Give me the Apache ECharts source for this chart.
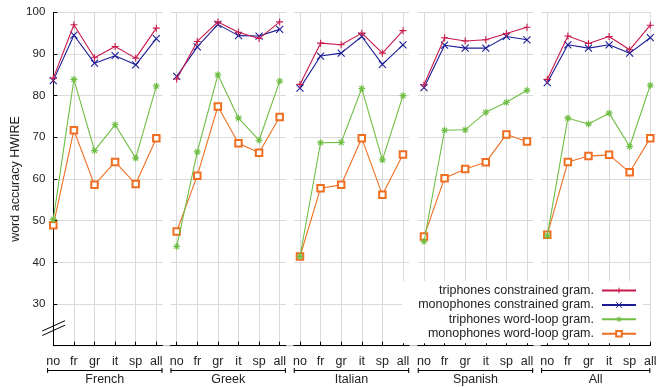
<!DOCTYPE html>
<html>
<head>
<meta charset="utf-8">
<script src="https://cdn.jsdelivr.net/npm/echarts@6/dist/echarts.min.js"></script>
<style>html,body{margin:0;padding:0;background:#fff}#c{width:666px;height:387px}</style>
</head>
<body>
<div id="c"></div>
<script>
// ---- data ----
const categories = ['no', 'fr', 'gr', 'it', 'sp', 'all'];
const panels = ['French', 'Greek', 'Italian', 'Spanish', 'All'];
const seriesNames = ['triphones constrained gram.', 'monophones constrained gram.', 'triphones word-loop gram.', 'monophones word-loop gram.'];
const yTicks = [20, 30, 40, 50, 60, 70, 80, 90, 100];
// one row per panel, values per category
const triConstrained = [
  [84.2, 97.0, 89.1, 91.8, 89.0, 96.2],
  [84.0, 93.0, 97.7, 95.2, 93.7, 97.7],
  [82.7, 92.6, 92.2, 95.0, 90.2, 95.6],
  [82.6, 93.9, 93.1, 93.4, 94.9, 96.4],
  [83.9, 94.3, 92.5, 94.2, 91.0, 96.9]
];
const monoConstrained = [
  [83.6, 94.5, 87.8, 89.6, 87.4, 93.7],
  [84.6, 91.7, 97.1, 94.4, 94.3, 95.9],
  [81.8, 89.5, 90.2, 94.2, 87.5, 92.2],
  [81.9, 92.1, 91.4, 91.4, 94.2, 93.4],
  [83.1, 92.2, 91.4, 92.2, 90.2, 93.9]
];
const triWordLoop = [
  [50.3, 83.9, 66.8, 73.0, 65.0, 82.3],
  [43.8, 66.5, 85.0, 74.6, 69.3, 83.5],
  [41.4, 68.7, 68.8, 81.7, 64.6, 80.0],
  [45.0, 71.7, 71.8, 76.0, 78.4, 81.3],
  [46.4, 74.6, 73.2, 75.8, 67.8, 82.5]
];
const monoWordLoop = [
  [48.9, 71.7, 58.6, 64.1, 58.8, 69.8],
  [47.4, 60.8, 77.4, 68.6, 66.3, 74.9],
  [41.4, 57.8, 58.6, 69.8, 56.2, 65.9],
  [46.2, 60.2, 62.4, 64.0, 70.7, 69.0],
  [46.6, 64.1, 65.5, 65.8, 61.6, 69.8]
];

// ---- layout / style ----
const U = 20.6;
const TOP = 12.3, BOTTOM = 41.3, AXIS_Y = 387 - BOTTOM;
const panelLayout = [
  {left: 53.3, min: 0, max: 5.3},
  {left: 170.5, min: -0.3, max: 5.3},
  {left: 293.8, min: -0.3, max: 5.3},
  {left: 417.8, min: -0.3, max: 5.3},
  {left: 541.1, min: -0.3, max: 5.0}
];
const colors = ['#c8194b', '#1c1c96', '#6fbe44', '#ef6f22'];
const symbols = [
  'path://M0,5L10,5M5,0L5,10',
  'path://M0,0L10,10M0,10L10,0',
  'path://M0,5L10,5M5,0L5,10M1.5,1.5L8.5,8.5M1.5,8.5L8.5,1.5',
  'emptyRect'
];
const symbolSizes = [7, 7, 7, 6.5];
const allData = [triConstrained, monoConstrained, triWordLoop, monoWordLoop];
const FONT = 'Liberation Sans';
const TXT = '#222';
const GRIDC = '#dadada';

const grids = [], xAxes = [], yAxes = [], series = [], graphics = [];
const catIdx = categories.map((c, i) => i);

panelLayout.forEach((p, k) => {
  const width = (p.max - p.min) * U;
  grids.push({left: p.left, top: TOP, width: width, bottom: BOTTOM, containLabel: false, outerBoundsMode: 'none'});
  xAxes.push({
    type: 'value', gridIndex: k, min: p.min, max: p.max,
    name: panels[k], nameLocation: 'middle', nameGap: 27,
    nameTextStyle: {fontFamily: FONT, fontSize: 12.5, color: TXT, padding: k === 0 ? [0, 6.2, 0, 0] : 0},
    axisLine: {show: true, lineStyle: {color: '#000', width: 1}},
    axisTick: {show: true, inside: true, length: 4, lineStyle: {color: '#000'}, customValues: k === 0 ? catIdx.slice(1) : catIdx},
    axisLabel: {show: true, margin: 9, fontFamily: FONT, fontSize: 12.5, color: TXT, customValues: catIdx,
      formatter: v => categories[Math.round(v)]},
    splitLine: {show: true, lineStyle: {color: GRIDC, width: 1}}
  });
  yAxes.push({
    type: 'value', gridIndex: k, min: 20, max: 100, interval: 10,
    name: k === 0 ? 'word accuracy HWIRE' : '', nameLocation: 'middle', nameGap: 28,
    nameTextStyle: {fontFamily: FONT, fontSize: 12.5, color: TXT},
    axisLine: {show: k === 0, lineStyle: {color: '#000', width: 1}},
    axisTick: {show: k === 0, inside: true, length: 4, lineStyle: {color: '#000'}},
    axisLabel: {show: k === 0, margin: 8, fontFamily: FONT, fontSize: 11.5, color: TXT,
      formatter: v => (v === yTicks[0] ? '' : String(v))},
    splitLine: {show: true, lineStyle: {color: GRIDC, width: 1}}
  });
  allData.forEach((arr, s) => {
    series.push({
      type: 'line', name: seriesNames[s], xAxisIndex: k, yAxisIndex: k,
      data: arr[k].map((v, i) => [i, v]),
      symbol: symbols[s], symbolSize: symbolSizes[s], showAllSymbol: true,
      lineStyle: {color: colors[s], width: 1.1},
      itemStyle: {color: colors[s], borderColor: colors[s], borderWidth: 1.1},
      emphasis: {disabled: true}, animation: false, z: 3 + (3 - s)
    });
  });
  // bracket under panel
  const startX = p.left - (0.3 + p.min) * U;
  const endX = p.left + width;
  const by = 370.5;
  graphics.push({type: 'line', shape: {x1: startX, y1: by, x2: endX, y2: by}, style: {stroke: '#000', lineWidth: 1}, silent: true});
  graphics.push({type: 'line', shape: {x1: startX + 0.5, y1: by - 2.5, x2: startX + 0.5, y2: by + 2.5}, style: {stroke: '#000', lineWidth: 1}, silent: true});
  graphics.push({type: 'line', shape: {x1: endX - 0.5, y1: by - 2.5, x2: endX - 0.5, y2: by + 2.5}, style: {stroke: '#000', lineWidth: 1}, silent: true});
});

// gray baseline between panels
graphics.push({type: 'line', z: -10, shape: {x1: 53, y1: AXIS_Y, x2: 650.5, y2: AXIS_Y}, style: {stroke: '#bbbbbb', lineWidth: 1}, silent: true});
// broken-axis marks
graphics.push({type: 'line', shape: {x1: 42.3, y1: 331, x2: 65, y2: 320.7}, style: {stroke: '#000', lineWidth: 1}, silent: true});
graphics.push({type: 'line', shape: {x1: 42.3, y1: 335.5, x2: 65, y2: 325.2}, style: {stroke: '#000', lineWidth: 1}, silent: true});

const chart = echarts.init(document.getElementById('c'), null, {renderer: 'canvas'});
chart.setOption({
  animation: false,
  backgroundColor: '#fff',
  grid: grids, xAxis: xAxes, yAxis: yAxes, series: series,
  legend: {
    data: seriesNames, orient: 'vertical', align: 'right',
    right: 23, top: 281, itemWidth: 34, itemHeight: 7, itemGap: 1.4,
    padding: [3, 6, 3, 16], backgroundColor: '#fff',
    itemStyle: {borderWidth: 1},
    textStyle: {fontFamily: FONT, fontSize: 12.5, color: TXT, lineHeight: 12, padding: [0, 3, 0, 0]},
    selectedMode: false, z: 10
  },
  graphic: graphics
});
</script>
</body>
</html>
